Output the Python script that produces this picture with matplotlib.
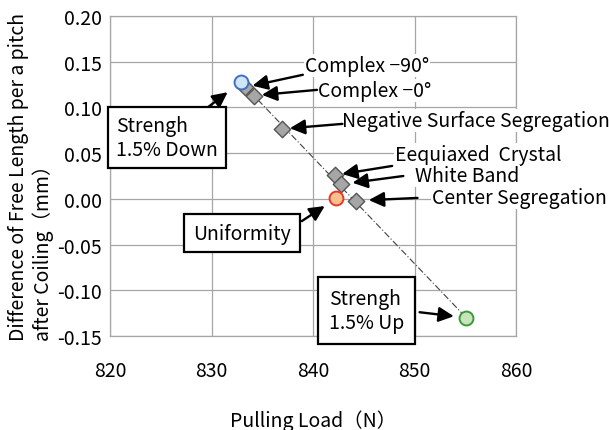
import matplotlib
matplotlib.use("Agg")
import matplotlib.pyplot as plt

plt.rcParams['font.family'] = ['Noto Sans CJK JP', 'DejaVu Sans']

# ---- data ----
series_names = ["Complex −90°", "Complex −0°", "Negative Surface Segregation",
                "Eequiaxed  Crystal", "White Band", "Center Segregation"]
series_load = [833.3, 834.2, 836.9, 842.2, 842.8, 844.2]
series_diff = [0.122, 0.113, 0.0765, 0.026, 0.016, -0.002]

ref_names = ["Strengh\n1.5% Down", "Uniformity", "Strengh\n1.5% Up"]
ref_load = [832.9, 842.3, 855.1]
ref_diff = [0.1277, 0.0005, -0.130]

x_ticks = [820, 830, 840, 850, 860]
y_ticks = [-0.15, -0.10, -0.05, 0.00, 0.05, 0.10, 0.15, 0.20]

# ---- styles / layout ----
FS = 14
ref_face = ["#cfe6f6", "#f9c08f", "#c9e4bd"]
ref_edge = ["#3f6fc4", "#e8382a", "#3a9a3a"]
# label text anchor (left, vcenter), arrow tail, arrow shrink (pt)
series_text = [(839.2, 0.1455), (840.5, 0.118), (842.9, 0.0853),
               (848.1, 0.049), (850.05, 0.025), (851.7, 0.001)]
series_tail = [(839.0, 0.1357), (840.4, 0.1192), (842.9, 0.082),
               (847.8, 0.036), (848.9, 0.025), (850.3, 0.001)]
series_shrink = [5.5, 5.6, 6, 5, 8, 9.5]
ref_box = [(825.6, 0.0672), (833.0, -0.0375), (845.27, -0.1224)]
ref_box_pad = [0.4, 0.45, 0.55]
ref_tail = [(829.56, 0.0995), (838.9, -0.0243), (850.5, -0.124)]
ref_shrink = [12, 10, 9]

fig = plt.figure(figsize=(6.09, 4.31), dpi=100)
ax = fig.add_axes([110/609, 1-337/431, (516-110)/609, (337-17)/431])

ax.set_xlim(x_ticks[0], x_ticks[-1])
ax.set_ylim(y_ticks[0], y_ticks[-1])
ax.set_xticks(x_ticks)
ax.set_yticks(y_ticks)
ax.set_xticklabels([str(t) for t in x_ticks])
ax.set_yticklabels([f"{t:.2f}" for t in y_ticks])
ax.tick_params(length=0, labelsize=FS)
ax.tick_params(axis='x', pad=17)
ax.tick_params(axis='y', pad=6)
ax.grid(True, color="#a6a6a6", lw=0.9)
ax.set_axisbelow(True)
for s in ax.spines.values():
    s.set_color("#a6a6a6")
    s.set_linewidth(0.9)

# trend line between the two strength points
ax.plot([ref_load[0], ref_load[2]], [ref_diff[0], ref_diff[2]],
        color="#404040", lw=0.8, ls=(0, (6, 2, 1, 2)), zorder=2)

ax.scatter(series_load, series_diff, marker='D', s=70, facecolor="#a6a6a6",
           edgecolor="#555555", lw=1.0, zorder=4)
for i in range(3):
    ax.scatter([ref_load[i]], [ref_diff[i]], marker='o', s=100,
               facecolor=ref_face[i], edgecolor=ref_edge[i], lw=1.4, zorder=4)

arrow_kw = dict(arrowstyle='-|>,head_length=0.65,head_width=0.32', color='black',
                lw=1.7, shrinkA=0, mutation_scale=14)

for name, (tx, ty), tail, x, y, sb in zip(series_names, series_text, series_tail,
                                          series_load, series_diff, series_shrink):
    ax.text(tx, ty, name, ha='left', va='center', fontsize=FS, zorder=3,
            bbox=dict(boxstyle='square,pad=0.05', fc='white', ec='none'))
    ax.annotate('', xy=(x, y), xytext=tail,
                arrowprops=dict(shrinkB=sb, **arrow_kw), zorder=5)

for name, (bx, by), pad, tail, x, y, sb in zip(ref_names, ref_box, ref_box_pad,
                                               ref_tail, ref_load, ref_diff,
                                               ref_shrink):
    ax.text(bx, by, name, ha='center', va='center', multialignment='left',
            fontsize=FS, zorder=6, linespacing=1.2,
            bbox=dict(boxstyle=f'square,pad={pad}', fc='white', ec='black', lw=1.6))
    ax.annotate('', xy=(x, y), xytext=tail,
                arrowprops=dict(shrinkB=sb, **arrow_kw), zorder=5)

ax.set_xlabel("Pulling Load（N）", fontsize=FS, labelpad=21)
ax.set_ylabel("Difference of Free Length per a pitch\nafter Coiling（mm）",
              fontsize=FS, multialignment='left', labelpad=2)

fig.savefig("out.png", dpi=100)
